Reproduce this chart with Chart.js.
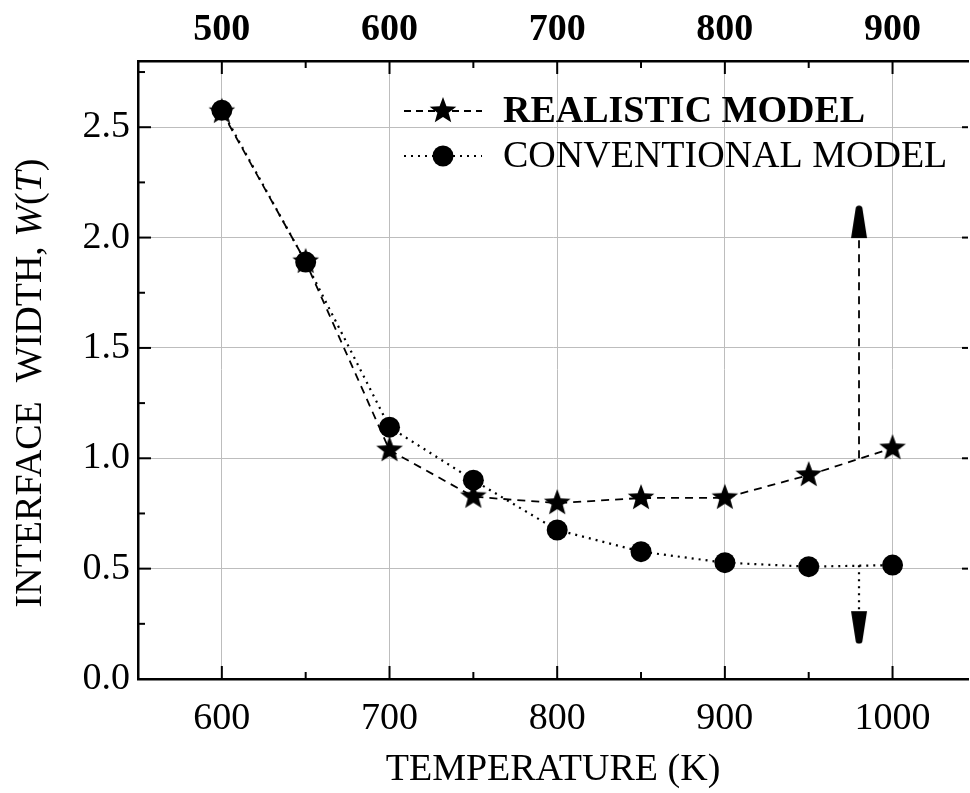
<!DOCTYPE html>
<html>
<head>
<meta charset="utf-8">
<script src="https://cdn.jsdelivr.net/npm/chart.js@4/dist/chart.umd.min.js"></script>
<style>
  body { margin: 0; background: #fff; }
  canvas { display: block; }
</style>
</head>
<body>
<canvas id="grafico" width="970" height="793"></canvas>
<script>
// data
const temperaturas = [600, 650, 700, 750, 800, 850, 900, 950, 1000]
const realista = [2.57, 1.89, 1.037, 0.826, 0.797, 0.82, 0.821, 0.924, 1.046]
const convencional = [2.577, 1.889, 1.141, 0.901, 0.675, 0.577, 0.527, 0.509, 0.516]

// arrows that point each curve to its axis
const flechaX = 980
const flechaArriba = [1.0, 2.07]
const flechaAbajo = [0.515, 0.235]

const xMin = 550, xMax = 1045
const yMin = 0, yMax = 2.8
const ticksX = [600, 700, 800, 900, 1000]
const ticksXMenores = [650, 750, 850, 950]
const ticksArriba = [500, 600, 700, 800, 900]
const ticksY = [0, 0.5, 1.0, 1.5, 2.0, 2.5]
const ticksYMenores = [0.25, 0.75, 1.25, 1.75, 2.25, 2.75]

const fuente = "'Liberation Serif', 'Times New Roman', serif"

// filled star marker
function hacerEstrella(r) {
  const c = document.createElement('canvas')
  c.width = c.height = r * 2 + 2
  const g = c.getContext('2d')
  g.translate(r + 1, r + 1)
  g.beginPath()
  for (let i = 0; i < 10; i++) {
    const rad = i % 2 === 0 ? r : r * 0.42
    const a = -Math.PI / 2 + i * Math.PI / 5
    g.lineTo(rad * Math.cos(a), rad * Math.sin(a))
  }
  g.closePath()
  g.fillStyle = '#000'
  g.fill()
  return c
}

// tapered arrow head, tip up or down
function hacerPunta(arriba) {
  const w = 18, h = 34
  const c = document.createElement('canvas')
  c.width = w; c.height = h
  const g = c.getContext('2d')
  if (!arriba) { g.translate(0, h); g.scale(1, -1) }
  g.beginPath()
  g.moveTo(w / 2 - 3.5, 4)
  g.arc(w / 2, 4, 3.5, Math.PI, 0)
  g.lineTo(w - 1, h - 1)
  g.lineTo(1, h - 1)
  g.closePath()
  g.fillStyle = '#000'
  g.fill()
  return c
}

const estrella = hacerEstrella(14)
const puntaArriba = hacerPunta(true)
const puntaAbajo = hacerPunta(false)

const marcas = {
  id: 'marcas',
  afterDraw(chart) {
    const { ctx, chartArea: a, scales } = chart
    const x = scales.x, y = scales.y
    ctx.save()
    ctx.strokeStyle = '#000'
    ctx.lineWidth = 2
    const linea = (x1, y1, x2, y2) => { ctx.beginPath(); ctx.moveTo(x1, y1); ctx.lineTo(x2, y2); ctx.stroke() }
    ticksX.forEach(v => {
      const px = x.getPixelForValue(v)
      linea(px, a.bottom, px, a.bottom - 13)
      linea(px, a.top, px, a.top + 13)
    })
    ticksXMenores.forEach(v => {
      const px = x.getPixelForValue(v)
      linea(px, a.bottom, px, a.bottom - 7)
      linea(px, a.top, px, a.top + 7)
    })
    ticksY.forEach(v => {
      const py = y.getPixelForValue(v)
      linea(a.left, py, a.left + 13, py)
      linea(a.right, py, a.right - 6, py)
    })
    ticksYMenores.forEach(v => {
      const py = y.getPixelForValue(v)
      linea(a.left, py, a.left + 7, py)
    })

    // leyenda
    ctx.fillStyle = '#000'
    ctx.lineWidth = 1.8
    ctx.setLineDash([7, 5])
    linea(404, 111, 482, 111)
    ctx.drawImage(estrella, 443 - estrella.width / 2, 111 - estrella.height / 2)
    ctx.lineWidth = 2.2
    ctx.setLineDash([2, 5])
    linea(404, 156, 482, 156)
    ctx.setLineDash([])
    ctx.beginPath(); ctx.arc(443, 156, 10.5, 0, Math.PI * 2); ctx.fill()
    ctx.textBaseline = 'middle'
    ctx.textAlign = 'left'
    ctx.font = 'bold 38px ' + fuente
    ctx.fillText('REALISTIC MODEL', 503, 112)
    ctx.font = '38px ' + fuente
    ctx.fillText('CONVENTIONAL MODEL', 503, 157)

    // titulo x
    ctx.textAlign = 'center'
    ctx.fillText('TEMPERATURE (K)', (a.left + a.right) / 2, 770)

    // titulo y con W(T) en cursiva
    const partes = [
      ['INTERFACE  WIDTH, ', ''], ['W', 'italic '], ['(', ''], ['T', 'italic '], [')', '']
    ]
    let total = 0
    partes.forEach(p => { ctx.font = p[1] + '38px ' + fuente; total += ctx.measureText(p[0]).width })
    ctx.translate(31, 383)
    ctx.rotate(-Math.PI / 2)
    ctx.textAlign = 'left'
    let cx = -total / 2
    partes.forEach(p => {
      ctx.font = p[1] + '38px ' + fuente
      ctx.fillText(p[0], cx, 0)
      cx += ctx.measureText(p[0]).width
    })
    ctx.restore()
  }
}

const puntos = (ys) => temperaturas.map((t, i) => ({ x: t, y: ys[i] }))
const sinRelleno = (s) => { s.paddingLeft = 0; s.paddingRight = 0; s.paddingTop = 0; s.paddingBottom = 0 }

new Chart(document.getElementById('grafico'), {
  type: 'line',
  data: {
    datasets: [
      {
        label: 'CONVENTIONAL MODEL',
        data: puntos(convencional),
        borderColor: '#000',
        borderWidth: 2.2,
        borderDash: [2, 5],
        pointStyle: 'circle',
        pointRadius: 10.5,
        pointBackgroundColor: '#000',
        pointBorderWidth: 0,
        tension: 0,
      },
      {
        label: 'REALISTIC MODEL',
        data: puntos(realista),
        borderColor: '#000',
        borderWidth: 1.8,
        borderDash: [8, 6],
        pointStyle: estrella,
        pointRadius: 12,
        tension: 0,
      },
      {
        label: 'flecha arriba',
        data: flechaArriba.map(v => ({ x: flechaX, y: v })),
        borderColor: '#000',
        borderWidth: 1.8,
        borderDash: [8, 6],
        pointStyle: (c) => c.dataIndex === 1 ? puntaArriba : 'circle',
        pointRadius: (c) => c.dataIndex === 1 ? 10 : 0,
      },
      {
        label: 'flecha abajo',
        data: flechaAbajo.map(v => ({ x: flechaX, y: v })),
        borderColor: '#000',
        borderWidth: 2.2,
        borderDash: [2, 5],
        pointStyle: (c) => c.dataIndex === 1 ? puntaAbajo : 'circle',
        pointRadius: (c) => c.dataIndex === 1 ? 10 : 0,
      },
    ],
  },
  options: {
    responsive: false,
    animation: false,
    events: [],
    layout: { autoPadding: false, padding: { left: 0, right: 2, top: 0, bottom: 0 } },
    plugins: { legend: { display: false }, tooltip: { enabled: false } },
    scales: {
      x: {
        type: 'linear',
        position: 'bottom',
        min: xMin,
        max: xMax,
        afterBuildTicks: (s) => { s.ticks = ticksX.map(v => ({ value: v })) },
        afterFit: (s) => { s.height = 114; sinRelleno(s) },
        ticks: { color: '#000', font: { family: fuente, size: 38 }, padding: 17, maxRotation: 0, callback: (v) => String(v) },
        grid: { color: '#bdbdbd', lineWidth: 1, drawTicks: false },
        border: { color: '#000', width: 2.5 },
      },
      x2: {
        type: 'linear',
        position: 'top',
        min: xMin - 100,
        max: xMax - 100,
        afterBuildTicks: (s) => { s.ticks = ticksArriba.map(v => ({ value: v })) },
        afterFit: (s) => { s.height = 61; sinRelleno(s) },
        ticks: { color: '#000', font: { family: fuente, size: 38, weight: 'bold' }, padding: 8, maxRotation: 0, callback: (v) => String(v) },
        grid: { display: false, drawTicks: false },
        border: { color: '#000', width: 2.5 },
      },
      y: {
        min: yMin,
        max: yMax,
        afterBuildTicks: (s) => { s.ticks = ticksY.map(v => ({ value: v })) },
        afterFit: (s) => { s.width = 138; sinRelleno(s) },
        ticks: { color: '#000', font: { family: fuente, size: 38 }, padding: 8, callback: (v) => v.toFixed(1) },
        grid: { color: '#bdbdbd', lineWidth: 1, drawTicks: false },
        border: { color: '#000', width: 2.5 },
      },
    },
  },
  plugins: [marcas],
})
</script>
</body>
</html>
